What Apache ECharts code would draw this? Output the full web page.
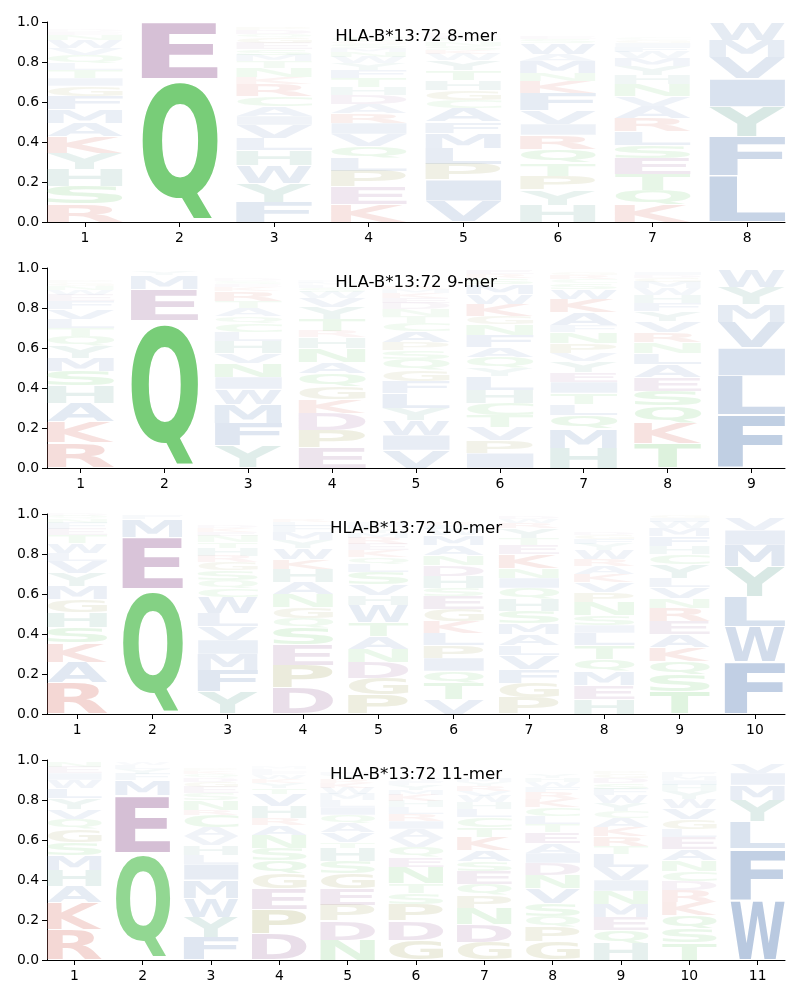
<!DOCTYPE html>
<html><head><meta charset="utf-8">
<script src="https://cdn.jsdelivr.net/npm/echarts@6/dist/echarts.min.js"></script>
<style>html,body{margin:0;padding:0;background:#fff}#c{width:800px;height:1000px}</style>
</head><body><div id="c"></div>
<script>
const titles = ['HLA-B*13:72 8-mer', 'HLA-B*13:72 9-mer', 'HLA-B*13:72 10-mer', 'HLA-B*13:72 11-mer'];
const yTicks = [0, 0.2, 0.4, 0.6, 0.8, 1.0];

// Each position: letter -> frequency, listed from bottom of the stack to the top
const logo8 = [
 {R:.09,S:.09,H:.085,Y:.08,K:.08,A:.07,M:.07,F:.065,G:.05,I:.04,T:.04,L:.035,Q:.04,V:.035,W:.04,N:.025,E:.015,D:.01},
 {Q:.715,E:.285},
 {F:.10,Y:.095,W:.09,H:.075,L:.06,V:.065,I:.045,A:.05,C:.05,R:.06,K:.035,N:.045,T:.035,M:.03,S:.03,E:.03,G:.025,Q:.02,D:.02,P:.015},
 {K:.09,E:.085,P:.08,L:.065,Q:.06,V:.06,I:.055,R:.05,A:.045,D:.045,H:.04,T:.045,F:.04,Y:.035,W:.03,N:.025,M:.02,S:.02,G:.015,C:.02},
 {V:.105,I:.105,P:.08,L:.08,M:.075,F:.055,A:.07,C:.04,G:.05,H:.05,T:.05,Y:.05,W:.03,K:.02,S:.02,N:.02,Q:.015,E:.015,D:.01},
 {H:.085,Y:.075,P:.07,T:.065,Q:.07,R:.07,I:.055,V:.07,F:.085,K:.06,N:.04,M:.06,A:.035,W:.055,S:.02,E:.015},
 {K:.085,Q:.075,T:.08,E:.08,S:.065,L:.07,R:.065,A:.06,V:.05,N:.06,H:.045,Y:.045,M:.04,W:.03,F:.025,I:.02,G:.015,C:.01},
 {L:.23,F:.195,Y:.15,I:.14,V:.11,M:.085,W:.09}
];
const logo9 = [
 {R:.125,K:.105,A:.095,H:.085,S:.075,M:.065,Y:.06,Q:.05,T:.04,L:.045,V:.05,F:.04,E:.03,W:.025,N:.02,G:.015,P:.01},
 {Q:.735,E:.16,M:.07,Y:.02},
 {Y:.11,F:.115,M:.095,W:.075,I:.06,N:.07,V:.05,H:.06,L:.045,C:.045,Q:.035,A:.04,T:.035,R:.05,K:.02,E:.015,S:.015,D:.01},
 {E:.1,P:.09,D:.085,K:.07,G:.065,Q:.065,A:.055,N:.07,H:.055,R:.03,T:.06,Y:.06,V:.045,W:.03,S:.02,L:.015,M:.01,F:.01},
 {V:.09,I:.075,W:.075,Y:.06,L:.075,F:.06,G:.055,Q:.055,S:.045,P:.04,A:.055,C:.04,T:.035,N:.035,D:.03,E:.025,K:.025,M:.02,R:.015},
 {I:.075,P:.065,V:.065,T:.06,C:.06,H:.065,L:.07,Y:.04,Q:.055,A:.05,F:.06,N:.055,G:.04,K:.06,W:.05,M:.05,S:.03,R:.02,E:.02},
 {H:.1,M:.095,Q:.07,L:.055,T:.055,I:.055,E:.05,Y:.055,V:.04,P:.05,N:.055,F:.035,A:.065,K:.065,W:.05,S:.03,C:.02,R:.02,G:.015},
 {T:.125,K:.1,Q:.085,S:.075,E:.07,A:.065,L:.055,N:.055,R:.05,V:.055,Y:.05,F:.04,H:.04,W:.035,M:.03,G:.02,D:.015,I:.015},
 {F:.265,L:.195,I:.14,V:.13,M:.09,Y:.085,W:.085}
];
const logo10 = [
 {R:.155,A:.105,K:.095,S:.08,H:.075,G:.065,M:.065,Y:.065,V:.06,L:.04,W:.05,T:.04,E:.03,F:.03,N:.02,Q:.015,D:.01},
 {Q:.625,E:.26,M:.09,F:.02},
 {Y:.11,F:.11,M:.08,I:.07,V:.07,L:.065,W:.08,C:.045,Q:.04,S:.05,G:.04,R:.03,H:.04,T:.03,N:.03,E:.02,K:.02,D:.015},
 {D:.13,P:.115,E:.1,S:.085,Q:.05,G:.055,N:.065,A:.06,H:.065,K:.05,W:.055,Y:.04,M:.04,F:.03,L:.02,R:.015},
 {P:.095,G:.085,D:.08,N:.065,A:.065,T:.07,W:.085,H:.05,V:.055,S:.06,L:.04,Q:.035,K:.035,E:.03,R:.03,M:.025,Y:.02,F:.02,I:.015},
 {V:.075,T:.08,Q:.06,I:.065,P:.065,L:.06,K:.06,G:.06,E:.065,S:.04,H:.06,D:.055,N:.05,A:.05,M:.05,W:.03,F:.02,R:.015},
 {P:.08,G:.075,F:.07,V:.07,L:.05,A:.055,M:.055,S:.06,H:.06,Q:.055,I:.05,N:.05,K:.07,E:.045,T:.035,Y:.05,R:.025,W:.02,D:.015},
 {H:.075,E:.07,M:.07,Q:.06,T:.07,L:.06,I:.04,S:.05,N:.065,P:.05,V:.05,K:.04,A:.04,R:.035,W:.045,Y:.03,F:.025,G:.02,D:.015},
 {T:.11,S:.085,Q:.07,K:.07,A:.065,E:.065,R:.065,N:.05,V:.055,L:.045,Y:.07,C:.05,H:.04,F:.05,M:.04,W:.03,I:.02,G:.015},
 {F:.26,W:.175,L:.15,Y:.15,M:.11,I:.075,V:.06}
];
const logo11 = [
 {R:.15,K:.135,A:.085,H:.08,M:.075,S:.065,G:.065,Q:.05,V:.05,Y:.055,L:.05,W:.04,I:.035,E:.03,N:.025},
 {Q:.535,E:.29,M:.075,F:.03,Y:.025,L:.02,W:.015},
 {F:.115,Y:.1,W:.095,M:.09,I:.08,L:.045,H:.05,V:.045,A:.045,C:.06,R:.025,N:.05,S:.035,E:.03,G:.025,D:.02,Q:.02,K:.015,P:.01},
 {D:.13,P:.125,E:.1,G:.075,Q:.07,S:.06,N:.065,A:.05,R:.035,H:.06,V:.06,T:.03,Y:.025,K:.02,W:.02,F:.015,L:.015,M:.01},
 {N:.1,D:.095,P:.08,E:.08,G:.08,S:.06,H:.065,T:.03,V:.05,A:.045,Q:.04,I:.04,L:.035,M:.03,W:.03,K:.025,R:.02,Y:.02,F:.015},
 {G:.1,D:.095,P:.085,S:.055,T:.05,N:.08,E:.05,Q:.05,V:.045,A:.045,I:.04,R:.035,L:.035,H:.03,K:.03,M:.025,Y:.025,F:.02,W:.015},
 {G:.09,D:.09,N:.08,P:.065,Q:.055,E:.065,S:.05,A:.055,K:.065,T:.05,C:.05,L:.04,H:.035,W:.03,V:.025,R:.025,Y:.02,M:.02},
 {G:.09,P:.075,Q:.055,S:.065,V:.075,N:.065,D:.06,I:.05,A:.05,E:.055,T:.04,L:.04,C:.045,K:.04,R:.035,F:.025,W:.025,H:.02,Y:.02},
 {H:.085,Q:.065,E:.065,M:.065,N:.065,I:.055,V:.065,L:.065,T:.04,R:.05,K:.045,A:.045,C:.035,Y:.04,W:.04,F:.03,S:.03,D:.025,G:.02,P:.015},
 {T:.085,S:.07,Q:.07,K:.065,R:.06,D:.045,C:.05,N:.055,A:.055,E:.06,L:.04,G:.05,V:.055,W:.045,Y:.04,H:.03,I:.025,M:.02,F:.02},
 {W:.3,F:.255,L:.135,Y:.11,M:.075,I:.06,V:.05}
];
const logos = [logo8, logo9, logo10, logo11];

// colour groups (full-strength colours); faintness follows the letter height
const groupColor = {
  red:[217,120,110], purple:[171,126,171], green:[120,205,120],
  teal:[120,176,163], olive:[170,170,105], blue:[118,150,195]
};
const letterGroup = {K:'red',R:'red',D:'purple',E:'purple',Q:'green',N:'green',S:'green',T:'green',C:'green',
  Y:'teal',H:'teal',P:'olive',G:'olive',A:'blue',V:'blue',L:'blue',I:'blue',M:'blue',F:'blue',W:'blue'};

const FONT = 'bold 100px "DejaVu Sans"';
const VPAD = 0.05, HALF_W = 0.4;
const mctx = document.createElement('canvas').getContext('2d');
mctx.font = FONT; mctx.textBaseline = 'middle'; mctx.textAlign = 'left';
const gcache = {};
function glyph(ch){
  if (!gcache[ch]) { const m = mctx.measureText(ch);
    gcache[ch] = {L:m.actualBoundingBoxLeft, R:m.actualBoundingBoxRight, A:m.actualBoundingBoxAscent, D:m.actualBoundingBoxDescent}; }
  return gcache[ch];
}
function colorFor(ch, h){
  const c = groupColor[letterGroup[ch]];
  const a = Math.min(1, Math.pow(h / 0.7, 0.8));
  return 'rgba(' + c[0] + ',' + c[1] + ',' + c[2] + ',' + a.toFixed(3) + ')';
}

const chart = echarts.init(document.getElementById('c'), null, {renderer:'canvas'});
const gridTops = [22, 268, 514, 760];
const grids = [], xAxes = [], yAxes = [], series = [], titleOpts = [];
logos.forEach((logo, p) => {
  const n = logo.length;
  const positions = logo.map((_, i) => i + 1);
  grids.push({left:47, right:15, top:gridTops[p], height:200, containLabel:false});
  xAxes.push({type:'value', gridIndex:p, min:0.6, max:n + 0.4,
    axisLine:{show:true, lineStyle:{color:'#000', width:1}},
    axisTick:{show:true, length:5, lineStyle:{color:'#000'}, customValues:positions},
    axisLabel:{color:'#000', fontSize:13.9, fontFamily:'DejaVu Sans', margin:9, customValues:positions},
    splitLine:{show:false}});
  yAxes.push({type:'value', gridIndex:p, min:0, max:1, interval:0.2,
    axisLine:{show:true, lineStyle:{color:'#000', width:1}},
    axisTick:{show:true, length:5, lineStyle:{color:'#000'}},
    axisLabel:{color:'#000', fontSize:13.9, fontFamily:'DejaVu Sans', margin:8, formatter:v => v.toFixed(1)},
    splitLine:{show:false}});
  const items = [], data = [];
  logo.forEach((col, i) => {
    let base = 0;
    Object.keys(col).forEach(ch => {
      const h = col[ch];
      items.push({ch:ch, color:colorFor(ch, h)});
      data.push([i + 1, base, base + h]);
      base += h;
    });
  });
  series.push({type:'custom', xAxisIndex:p, yAxisIndex:p, silent:true, animation:false,
    encode:{x:0, y:[1,2]}, data:data,
    renderItem:function(params, api){
      const it = items[params.dataIndex];
      const pos = api.value(0), y0 = api.value(1), y1 = api.value(2);
      const pad = (y1 - y0) * VPAD / 2;
      const tl = api.coord([pos - HALF_W, y1 - pad]);
      const br = api.coord([pos + HALF_W, y0 + pad]);
      const w = br[0] - tl[0], hh = br[1] - tl[1];
      if (hh < 0.4) return null;
      const g = glyph(it.ch);
      const sx = w / (g.L + g.R), sy = hh / (g.A + g.D);
      return {type:'text', x: tl[0] + g.L * sx, y: tl[1] + g.A * sy, scaleX: sx, scaleY: sy,
        style:{text: it.ch, fill: it.color, font: FONT, align:'left', verticalAlign:'middle',
               textAlign:'left', textVerticalAlign:'middle'}};
    }});
  titleOpts.push({text:titles[p], left:416, top:gridTops[p] + 6, textAlign:'center', padding:0,
    textStyle:{fontSize:16.67, fontWeight:'normal', color:'#000', fontFamily:'DejaVu Sans'}});
});
chart.setOption({animation:false, title:titleOpts, grid:grids, xAxis:xAxes, yAxis:yAxes, series:series});
</script></body></html>
